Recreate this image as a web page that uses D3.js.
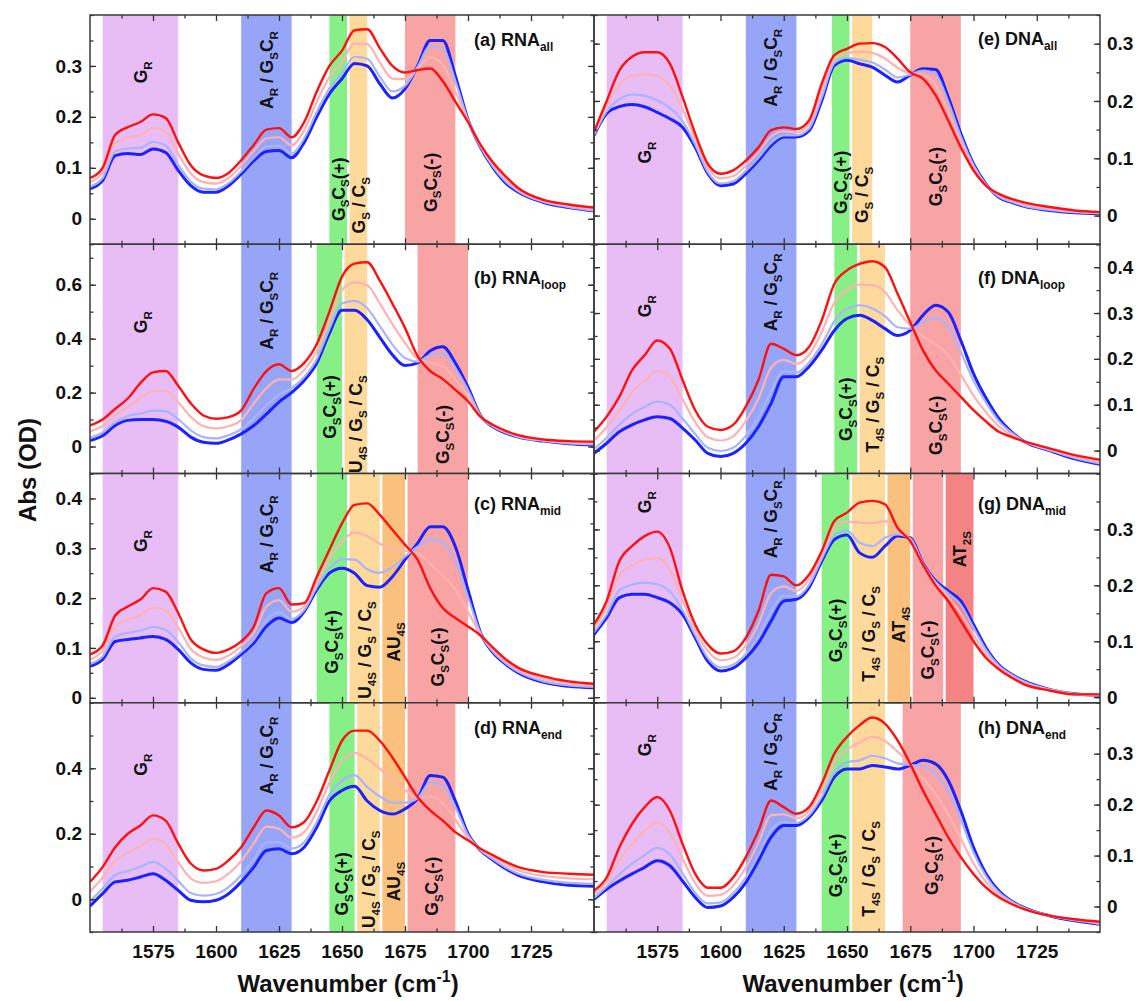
<!DOCTYPE html>
<html>
<head>
<meta charset="utf-8">
<script src="https://cdn.jsdelivr.net/npm/d3@7"></script>
<style>
  body { margin: 0; background: #fff; }
  svg { font-family: "Liberation Sans", Arial, sans-serif; font-weight: bold; }
</style>
</head>
<body>
<script>
// wavenumber grid (cm-1) shared by every spectrum
var wn = [1550,1555,1560,1565,1570,1575,1580,1585,1590,1595,1600,1605,1610,1615,1620,1625,1630,1635,1640,1645,1650,1655,1660,1665,1670,1675,1680,1685,1690,1695,1700,1705,1710,1715,1720,1730,1740,1750];

// each panel: first spectrum (blue), two pale ones in the middle, last spectrum (red)
// (a) RNA all
var aBlue = [.059,.075,.124,.128,.126,.137,.130,.095,.065,.052,.052,.065,.088,.114,.132,.134,.120,.150,.200,.245,.275,.305,.300,.265,.237,.255,.300,.350,.350,.280,.195,.140,.100,.070,.052,.032,.022,.015];
var aPaleBlue = [.063,.080,.132,.138,.139,.151,.144,.106,.073,.059,.058,.070,.093,.120,.141,.143,.128,.158,.210,.256,.286,.318,.314,.279,.250,.261,.298,.339,.334,.270,.194,.141,.102,.073,.054,.033,.023,.016];
var aPaleRed = [.072,.090,.149,.159,.164,.178,.171,.128,.089,.072,.069,.080,.104,.133,.158,.160,.144,.174,.230,.278,.308,.344,.343,.307,.275,.274,.295,.317,.302,.250,.192,.143,.106,.078,.057,.035,.026,.019];
var aRed = [.080,.100,.165,.180,.190,.205,.198,.150,.105,.085,.080,.090,.115,.145,.175,.178,.160,.190,.250,.300,.330,.370,.372,.335,.300,.287,.292,.295,.270,.230,.190,.145,.110,.083,.060,.037,.028,.022];

// (b) RNA loop
var bBlue = [.022,.040,.078,.097,.100,.100,.094,.072,.035,.016,.012,.025,.047,.078,.120,.165,.200,.245,.310,.420,.505,.505,.470,.405,.340,.300,.310,.355,.370,.310,.220,.115,.072,.050,.035,.020,.010,.005];
var bPaleBlue = [.033,.052,.090,.113,.122,.133,.131,.102,.060,.035,.030,.042,.064,.105,.152,.193,.216,.258,.324,.436,.530,.540,.513,.447,.378,.328,.315,.340,.346,.290,.210,.114,.074,.052,.036,.021,.012,.008];
var bPaleRed = [.056,.076,.115,.146,.181,.205,.206,.164,.110,.075,.067,.075,.099,.160,.216,.249,.248,.284,.352,.468,.580,.609,.598,.531,.454,.384,.325,.310,.298,.250,.189,.112,.077,.055,.039,.024,.016,.013];
var bRed = [.078,.100,.140,.178,.235,.275,.280,.225,.160,.115,.103,.109,.134,.215,.280,.305,.280,.310,.380,.500,.630,.678,.683,.615,.530,.440,.335,.280,.250,.210,.168,.110,.080,.058,.042,.026,.020,.018];

// (c) RNA mid
var cBlue = [.063,.077,.113,.117,.120,.123,.117,.097,.070,.057,.055,.067,.087,.110,.143,.160,.151,.173,.217,.250,.260,.250,.225,.222,.243,.277,.310,.343,.343,.303,.217,.130,.090,.067,.050,.031,.023,.020];
var cPaleBlue = [.068,.083,.123,.130,.135,.142,.136,.112,.079,.065,.062,.073,.092,.117,.156,.172,.158,.176,.222,.259,.278,.277,.258,.251,.262,.283,.303,.318,.310,.274,.202,.129,.092,.069,.052,.033,.025,.022];
var cPaleRed = [.077,.094,.144,.157,.166,.181,.175,.141,.098,.081,.076,.085,.103,.130,.183,.196,.173,.183,.233,.278,.314,.332,.324,.309,.299,.295,.290,.269,.245,.217,.173,.127,.096,.073,.056,.038,.029,.025];
var cRed = [.087,.105,.165,.183,.197,.220,.213,.170,.117,.097,.090,.097,.113,.143,.210,.220,.187,.190,.243,.297,.350,.387,.390,.367,.337,.307,.277,.220,.180,.160,.143,.125,.100,.077,.060,.043,.033,.028];

// (d) RNA end
var dBlue = [-.021,.017,.053,.058,.068,.078,.058,.027,-.003,-.008,-.003,.017,.053,.098,.149,.154,.139,.159,.220,.300,.332,.345,.300,.271,.260,.276,.307,.378,.373,.300,.200,.149,.119,.093,.073,.053,.043,.040];
var dPaleBlue = [-.006,.033,.074,.086,.099,.114,.094,.056,.019,.011,.016,.037,.074,.122,.173,.174,.155,.174,.236,.319,.362,.379,.343,.314,.295,.295,.308,.357,.346,.281,.196,.150,.122,.097,.078,.059,.050,.047];
var dPaleRed = [.023,.066,.117,.143,.162,.185,.167,.113,.064,.050,.055,.078,.117,.171,.222,.215,.188,.205,.268,.356,.423,.447,.429,.399,.364,.334,.310,.314,.293,.243,.188,.152,.128,.106,.088,.071,.064,.061];
var dRed = [.053,.098,.159,.200,.225,.256,.240,.170,.109,.088,.093,.119,.159,.220,.271,.256,.220,.236,.300,.393,.484,.515,.515,.484,.433,.373,.312,.271,.240,.205,.180,.154,.134,.114,.098,.083,.078,.075];

// (e) DNA all
var eBlue = [.140,.178,.190,.194,.190,.180,.169,.154,.119,.073,.052,.055,.073,.096,.122,.137,.137,.148,.200,.262,.271,.265,.259,.245,.233,.245,.256,.255,.207,.143,.090,.055,.032,.023,.016,.009,.005,.003];
var ePaleBlue = [.141,.182,.203,.211,.209,.201,.188,.165,.124,.076,.056,.060,.078,.101,.127,.140,.140,.152,.206,.266,.275,.272,.267,.255,.241,.246,.253,.246,.199,.138,.088,.054,.033,.024,.017,.010,.006,.004];
var ePaleRed = [.144,.191,.228,.244,.247,.243,.227,.186,.133,.083,.065,.069,.087,.110,.138,.147,.145,.159,.218,.273,.283,.286,.284,.274,.258,.248,.246,.228,.182,.129,.083,.053,.036,.027,.020,.013,.007,.005];
var eRed = [.146,.200,.253,.277,.285,.285,.265,.207,.143,.090,.073,.079,.096,.119,.149,.154,.151,.166,.230,.280,.291,.300,.301,.294,.274,.250,.239,.210,.166,.119,.079,.052,.038,.029,.023,.015,.009,.006];

// (f) DNA loop
var fBlue = [-.006,.016,.041,.056,.067,.074,.070,.049,.023,-.006,-.013,-.006,.016,.052,.103,.161,.161,.183,.219,.262,.288,.295,.284,.266,.251,.262,.295,.317,.302,.240,.168,.114,.070,.041,.020,.000,-.018,-.030];
var fPaleBlue = [.003,.028,.056,.080,.095,.107,.100,.070,.036,.006,-.001,.006,.032,.072,.129,.173,.170,.192,.232,.282,.309,.317,.310,.293,.269,.266,.280,.289,.271,.215,.152,.104,.064,.039,.020,.001,-.016,-.028];
var fPaleRed = [.022,.051,.087,.127,.152,.174,.161,.112,.062,.029,.022,.031,.064,.113,.181,.198,.189,.209,.258,.323,.351,.362,.361,.346,.306,.273,.249,.232,.208,.166,.120,.083,.053,.034,.020,.003,-.013,-.024];
var fRed = [.041,.074,.117,.175,.208,.240,.222,.154,.088,.052,.045,.056,.096,.154,.233,.222,.208,.226,.284,.364,.393,.407,.413,.400,.342,.280,.219,.175,.146,.117,.088,.063,.041,.030,.020,.005,-.010,-.020];

// (g) DNA mid
var gBlue = [.112,.142,.178,.184,.184,.178,.169,.148,.106,.064,.047,.052,.070,.097,.136,.172,.175,.196,.243,.282,.290,.258,.250,.270,.288,.285,.240,.208,.190,.172,.130,.088,.058,.041,.029,.014,.006,.003];
var gPaleBlue = [.116,.148,.191,.201,.205,.202,.189,.156,.111,.070,.053,.058,.077,.108,.153,.181,.180,.201,.247,.289,.298,.276,.270,.285,.291,.284,.239,.206,.186,.165,.124,.084,.056,.040,.028,.014,.006,.003];
var gPaleRed = [.123,.160,.217,.236,.246,.249,.228,.173,.120,.082,.066,.070,.092,.131,.186,.198,.190,.210,.254,.302,.314,.312,.311,.315,.297,.281,.238,.203,.179,.150,.112,.077,.053,.037,.025,.013,.005,.004];
var gRed = [.130,.172,.243,.270,.288,.296,.267,.190,.130,.094,.078,.082,.106,.154,.219,.216,.200,.219,.261,.315,.330,.348,.351,.345,.303,.279,.237,.200,.172,.136,.100,.070,.050,.035,.023,.012,.005,.005];

// (h) DNA end
var hBlue = [.014,.034,.050,.064,.077,.090,.080,.050,.018,-.002,.001,.018,.047,.090,.136,.159,.159,.175,.208,.254,.270,.270,.277,.274,.270,.277,.287,.280,.248,.188,.116,.064,.031,.011,-.002,-.018,-.028,-.035];
var hPaleBlue = [.017,.039,.063,.084,.101,.115,.102,.065,.027,.006,.008,.026,.057,.102,.150,.166,.164,.179,.215,.263,.283,.287,.296,.291,.281,.278,.275,.260,.226,.170,.106,.059,.028,.010,-.003,-.018,-.027,-.034];
var hPaleRed = [.024,.048,.090,.123,.148,.165,.145,.094,.046,.021,.023,.041,.077,.125,.179,.181,.173,.187,.228,.282,.308,.322,.333,.325,.304,.279,.252,.221,.181,.133,.085,.048,.023,.007,-.004,-.018,-.026,-.032];
var hRed = [.031,.057,.116,.162,.195,.215,.188,.123,.064,.037,.037,.057,.097,.149,.208,.195,.182,.195,.241,.300,.333,.356,.371,.359,.326,.280,.228,.182,.136,.097,.064,.037,.018,.005,-.005,-.018,-.025,-.030];

// assignment bands: [from, to, kind, label]
var aBands = [[1555,1585,"gr","G_{R}"],[1610,1630,"ar","A_{R} / G_{S}C_{R}"],[1645,1652,"pos","G_{S}C_{S}(+)"],[1653,1660,"mix","G_{S} / C_{S}"],[1675,1695,"neg","G_{S}C_{S}(-)"]];
var bBands = [[1555,1585,"gr","G_{R}"],[1610,1630,"ar","A_{R} / G_{S}C_{R}"],[1640,1650,"pos","G_{S}C_{S}(+)"],[1651,1660,"mix","U_{4S} / G_{S} / C_{S}"],[1680,1700,"neg","G_{S}C_{S}(-)"]];
var cBands = [[1555,1585,"gr","G_{R}"],[1610,1630,"ar","A_{R} / G_{S}C_{R}"],[1640,1652,"pos","G_{S}C_{S}(+)"],[1653,1665,"mix","U_{4S} / G_{S} / C_{S}"],[1666,1675,"au","AU_{4S}"],[1676,1700,"neg","G_{S}C_{S}(-)"]];
var dBands = [[1555,1585,"gr","G_{R}"],[1610,1630,"ar","A_{R} / G_{S}C_{R}"],[1645,1655,"pos","G_{S}C_{S}(+)"],[1656,1665,"mix","U_{4S} / G_{S} / C_{S}"],[1666,1675,"au","AU_{4S}"],[1676,1695,"neg","G_{S}C_{S}(-)"]];
var eBands = [[1555,1585,"gr","G_{R}"],[1610,1630,"ar","A_{R} / G_{S}C_{R}"],[1644,1651,"pos","G_{S}C_{S}(+)"],[1652,1660,"mix","G_{S} / C_{S}"],[1675,1695,"neg","G_{S}C_{S}(-)"]];
var fBands = [[1555,1585,"gr","G_{R}"],[1610,1630,"ar","A_{R} / G_{S}C_{R}"],[1645,1654,"pos","G_{S}C_{S}(+)"],[1655,1665,"mix","T_{4S} / G_{S} / C_{S}"],[1675,1695,"neg","G_{S}C_{S}(-)"]];
var gBands = [[1555,1585,"gr","G_{R}"],[1610,1630,"ar","A_{R} / G_{S}C_{R}"],[1640,1651,"pos","G_{S}C_{S}(+)"],[1652,1665,"mix","T_{4S} / G_{S} / C_{S}"],[1666,1675,"au","AT_{4S}"],[1676,1688,"neg","G_{S}C_{S}(-)"],[1689,1700,"at2","AT_{2S}"]];
var hBands = [[1555,1585,"gr","G_{R}"],[1610,1630,"ar","A_{R} / G_{S}C_{R}"],[1640,1651,"pos","G_{S}C_{S}(+)"],[1652,1665,"mix","T_{4S} / G_{S} / C_{S}"],[1672,1695,"neg","G_{S}C_{S}(-)"]];

// y tick labels per panel
var aTicks = [0, 0.1, 0.2, 0.3];
var bTicks = [0, 0.2, 0.4, 0.6];
var cTicks = [0, 0.1, 0.2, 0.3, 0.4];
var dTicks = [0, 0.2, 0.4];
var eTicks = [0, 0.1, 0.2, 0.3];
var fTicks = [0, 0.1, 0.2, 0.3, 0.4];
var gTicks = [0, 0.1, 0.2, 0.3];
var hTicks = [0, 0.1, 0.2, 0.3];
var xTicks = [1575, 1600, 1625, 1650, 1675, 1700, 1725];

var panels = [
  {title: "(a) RNA_{all}",  col: 0, row: 0, y: [-0.05, 0.4],  minor: 0.05, ticks: aTicks, curves: [aBlue, aPaleBlue, aPaleRed, aRed], bands: aBands},
  {title: "(b) RNA_{loop}", col: 0, row: 1, y: [-0.1, 0.75],  minor: 0.1,  ticks: bTicks, curves: [bBlue, bPaleBlue, bPaleRed, bRed], bands: bBands},
  {title: "(c) RNA_{mid}",  col: 0, row: 2, y: [-0.01, 0.45], minor: 0.05, ticks: cTicks, curves: [cBlue, cPaleBlue, cPaleRed, cRed], bands: cBands},
  {title: "(d) RNA_{end}",  col: 0, row: 3, y: [-0.1, 0.6],   minor: 0.1,  ticks: dTicks, curves: [dBlue, dPaleBlue, dPaleRed, dRed], bands: dBands},
  {title: "(e) DNA_{all}",  col: 1, row: 0, y: [-0.05, 0.35], minor: 0.05, ticks: eTicks, curves: [eBlue, ePaleBlue, ePaleRed, eRed], bands: eBands},
  {title: "(f) DNA_{loop}", col: 1, row: 1, y: [-0.05, 0.45], minor: 0.05, ticks: fTicks, curves: [fBlue, fPaleBlue, fPaleRed, fRed], bands: fBands},
  {title: "(g) DNA_{mid}",  col: 1, row: 2, y: [-0.01, 0.4],  minor: 0.05, ticks: gTicks, curves: [gBlue, gPaleBlue, gPaleRed, gRed], bands: gBands},
  {title: "(h) DNA_{end}",  col: 1, row: 3, y: [-0.05, 0.4],  minor: 0.05, ticks: hTicks, curves: [hBlue, hPaleBlue, hPaleRed, hRed], bands: hBands}
];

// layout only: where band labels sit (fraction of panel height) and title baselines
var labelPos = [
  [0.25, 0.24, 0.76, 0.83, 0.73],
  [0.34, 0.29, 0.71, 0.785, 0.83],
  [0.295, 0.265, 0.735, 0.77, 0.735, 0.8],
  [0.27, 0.23, 0.79, 0.77, 0.78, 0.8],
  [0.6, 0.23, 0.73, 0.785, 0.705],
  [0.27, 0.21, 0.72, 0.70, 0.79],
  [0.125, 0.2, 0.685, 0.70, 0.66, 0.77, 0.33],
  [0.185, 0.215, 0.71, 0.725, 0.71]
];
var titleDy = [31, 40, 36, 31, 30, 40, 36, 31];

var W = 1138, H = 1001;
var colX = [[90, 594], [594, 1100]];
var rowTop = 15, rowH = 229.25;
var lineColors = ["#1a22ff", "#a9b3ff", "#ffb2b2", "#ff1010"];
var lineWidths = [3, 2.2, 2.2, 2.4];
var bandColors = {gr: "#e8bdf6", ar: "#96a5f8", pos: "#86f086", mix: "#fdd99b", au: "#f9c07e", neg: "#f8a4a4", at2: "#f48484"};
var bandFont = 17.5;

// text with _{sub} and ^{sup} parts
function richText(el, str, size) {
  var re = /([_^])\{([^}]*)\}/g, last = 0, m, shift = 0;
  function add(txt, off, fs) {
    var d = off - shift;
    el.append("tspan").attr("dy", d ? d : null).style("font-size", fs + "px").text(txt);
    shift = off;
  }
  while ((m = re.exec(str))) {
    if (m.index > last) add(str.slice(last, m.index), 0, size);
    add(m[2], m[1] === "_" ? size * 0.28 : -size * 0.42, size * 0.66);
    last = re.lastIndex;
  }
  if (last < str.length) add(str.slice(last), 0, size);
}

var svg = d3.select("body").append("svg").attr("width", W).attr("height", H);

panels.forEach(function(p, i) {
  var x0 = colX[p.col][0], x1 = colX[p.col][1];
  var top = rowTop + p.row * rowH, bot = top + rowH;
  var x = d3.scaleLinear().domain([1550, 1750]).range([x0, x1]);
  var y = d3.scaleLinear().domain(p.y).range([bot, top]);
  var g = svg.append("g");

  g.append("clipPath").attr("id", "clip" + i)
    .append("rect").attr("x", x0).attr("y", top).attr("width", x1 - x0).attr("height", rowH);

  // bands
  g.selectAll("rect.band").data(p.bands).enter().append("rect")
    .attr("class", "band")
    .attr("x", function(b) { return x(b[0]); })
    .attr("width", function(b) { return x(b[1]) - x(b[0]); })
    .attr("y", top).attr("height", rowH)
    .attr("fill", function(b) { return bandColors[b[2]]; });

  // spectra
  var line = d3.line()
    .x(function(d, k) { return x(wn[k]); })
    .y(function(d) { return y(d); })
    .curve(d3.curveMonotoneX);
  g.append("g").attr("clip-path", "url(#clip" + i + ")")
    .selectAll("path").data(p.curves).enter().append("path")
    .attr("d", line)
    .attr("fill", "none")
    .attr("stroke", function(d, k) { return lineColors[k]; })
    .attr("stroke-width", function(d, k) { return lineWidths[k]; })
    .attr("stroke-linejoin", "round");

  // band labels, rotated
  p.bands.forEach(function(b, k) {
    var cx = x((b[0] + b[1]) / 2) + bandFont * 0.36;
    var cy = top + rowH * labelPos[i][k];
    var t = g.append("text")
      .attr("transform", "translate(" + cx + "," + cy + ") rotate(-90)")
      .attr("text-anchor", "middle")
      .attr("fill", "#111");
    richText(t, b[3], bandFont);
  });

  // axes
  var minorY = d3.range(Math.ceil(p.y[0] / p.minor) * p.minor, p.y[1] + 1e-9, p.minor);
  var minorX = d3.range(1562.5, 1750, 25);
  function strip(sel) {
    sel.select(".domain").remove();
    sel.attr("font-size", null).attr("font-family", null);
    sel.selectAll("line").attr("stroke", "#333").attr("stroke-width", 1.3);
    sel.selectAll("text").style("font-size", "19px").style("font-weight", "bold").attr("fill", "#111");
  }
  var yFmt = function(d) { return d === 0 ? "0" : d3.format(".1f")(d); };
  var last = p.row === 3;

  g.append("g").attr("transform", "translate(0," + bot + ")")
    .call(d3.axisBottom(x).tickValues(xTicks).tickSizeInner(-6).tickSizeOuter(0).tickPadding(13)
      .tickFormat(last ? d3.format("d") : function() { return ""; }))
    .call(strip);
  g.append("g").attr("transform", "translate(0," + bot + ")")
    .call(d3.axisBottom(x).tickValues(minorX).tickSizeInner(-3.5).tickSizeOuter(0).tickFormat(""))
    .call(strip);
  g.append("g").attr("transform", "translate(0," + top + ")")
    .call(d3.axisTop(x).tickValues(xTicks).tickSizeInner(-6).tickSizeOuter(0).tickFormat(""))
    .call(strip);
  g.append("g").attr("transform", "translate(0," + top + ")")
    .call(d3.axisTop(x).tickValues(minorX).tickSizeInner(-3.5).tickSizeOuter(0).tickFormat(""))
    .call(strip);

  g.append("g").attr("transform", "translate(" + x0 + ",0)")
    .call(d3.axisLeft(y).tickValues(p.ticks).tickSizeInner(-6).tickSizeOuter(0).tickPadding(8)
      .tickFormat(p.col === 0 ? yFmt : function() { return ""; }))
    .call(strip);
  g.append("g").attr("transform", "translate(" + x0 + ",0)")
    .call(d3.axisLeft(y).tickValues(minorY).tickSizeInner(-3.5).tickSizeOuter(0).tickFormat(""))
    .call(strip);
  g.append("g").attr("transform", "translate(" + x1 + ",0)")
    .call(d3.axisRight(y).tickValues(p.ticks).tickSizeInner(-6).tickSizeOuter(0).tickPadding(7)
      .tickFormat(p.col === 1 ? yFmt : function() { return ""; }))
    .call(strip);
  g.append("g").attr("transform", "translate(" + x1 + ",0)")
    .call(d3.axisRight(y).tickValues(minorY).tickSizeInner(-3.5).tickSizeOuter(0).tickFormat(""))
    .call(strip);

  g.append("rect")
    .attr("x", x0).attr("y", top).attr("width", x1 - x0).attr("height", rowH)
    .attr("fill", "none").attr("stroke", "#3a3a3a").attr("stroke-width", 1.5);

  // panel title
  var tt = g.append("text").attr("x", x0 + 384).attr("y", top + titleDy[i]).attr("fill", "#111");
  richText(tt, p.title, 18);
});

// axis titles
var yt = svg.append("text")
  .attr("transform", "translate(36,470) rotate(-90)")
  .attr("text-anchor", "middle").attr("fill", "#111");
richText(yt, "Abs (OD)", 24);

[0, 1].forEach(function(c) {
  var t = svg.append("text")
    .attr("x", (colX[c][0] + colX[c][1]) / 2 + 6).attr("y", 992)
    .attr("text-anchor", "middle").attr("fill", "#111");
  richText(t, "Wavenumber (cm^{-1})", 24);
});
</script>
</body>
</html>
